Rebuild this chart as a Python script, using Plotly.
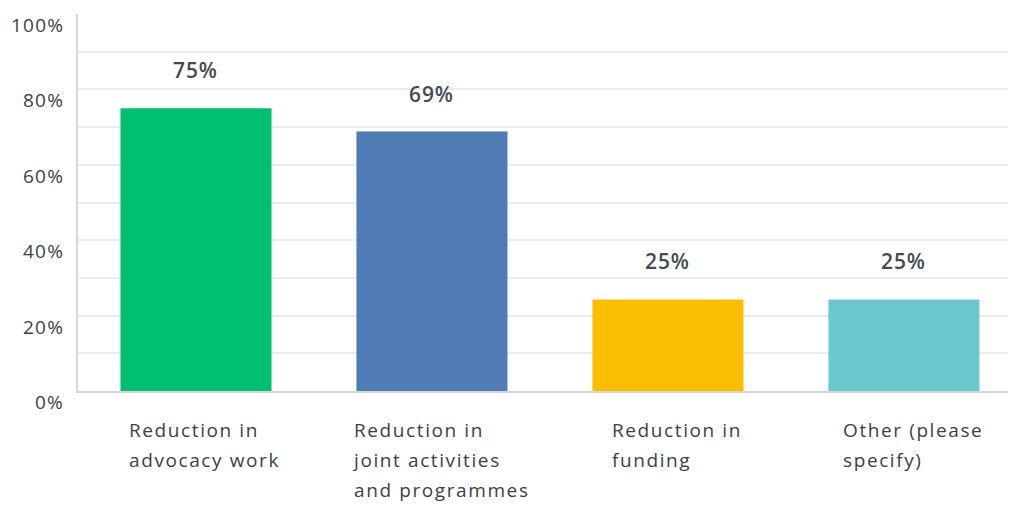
import plotly.graph_objects as go

# survey answers (share of respondents)
categories = ["Reduction in<br>advocacy work",
              "Reduction in<br>joint activities<br>and programmes",
              "Reduction in<br>funding",
              "Other (please<br>specify)"]
values = [75, 68.8, 24.3, 24.3]
value_labels = ["75%", "69%", "25%", "25%"]
colors = ["#00bf6f", "#507cb6", "#f9be00", "#6bc8cd"]
y_ticks = [0, 20, 40, 60, 80, 100]
y_tick_labels = ["0%", "20%", "40%", "60%", "80%", "100%"]

txt = "#3b4148"
font = "Open Sans"


def spaced(s, size, ls=1):
    # wrap each line in a span with letter spacing
    return "<br>".join(f'<span style="font-size:{size}px;letter-spacing:{ls}px">{p}</span>'
                       for p in s.split("<br>"))


fig = go.Figure(go.Bar(x=list(range(len(categories))), y=values,
                       marker=dict(color=colors, line=dict(width=0)),
                       hoverinfo="skip"))

# value labels above bars
for i, (v, lab) in enumerate(zip(values, value_labels)):
    fig.add_annotation(x=i, y=v, text=spaced(lab, 21, 0.9), showarrow=False, yshift=38,
                       font=dict(family=font, size=21, color="#454b52", weight=600))

# category labels, left aligned blocks below bars
for i, c in enumerate(categories):
    fig.add_annotation(x=i, y=0, xref="x", yref="paper", text=spaced(c, 19, 1.6),
                       showarrow=False, xanchor="center", yanchor="top", align="left",
                       xshift=9, yshift=-24,
                       font=dict(family=font, size=23, color=txt))

# y tick labels, sitting a bit below their gridlines
for t, lab in zip(y_ticks, y_tick_labels):
    fig.add_annotation(x=0, y=t, xref="paper", yref="y", text=spaced(lab, 19, 1.2),
                       showarrow=False, xanchor="right", yanchor="middle",
                       xshift=-12, yshift=-11,
                       font=dict(family=font, size=19, color=txt))

# page body has an 8px margin, so the figure is 8px smaller each way
fig.update_layout(
    width=1008, height=497,
    margin=dict(l=70, r=0, t=6, b=114, autoexpand=False),
    paper_bgcolor="white", plot_bgcolor="white",
    bargap=0.36, showlegend=False,
    xaxis=dict(range=[-0.5, 3.475], showticklabels=False, showgrid=False, automargin=False,
               zeroline=False, showline=True, linecolor="#d6d6d6", linewidth=2),
    yaxis=dict(range=[0, 100], tickvals=y_ticks[:-1], showticklabels=False, automargin=False,
               showgrid=True, gridcolor="#ececec", gridwidth=2,
               minor=dict(dtick=10, showgrid=True, gridcolor="#ececec", gridwidth=2),
               zeroline=False, showline=True, linecolor="#d6d6d6", linewidth=2, ticks=""),
)

fig.write_html("out.html")
